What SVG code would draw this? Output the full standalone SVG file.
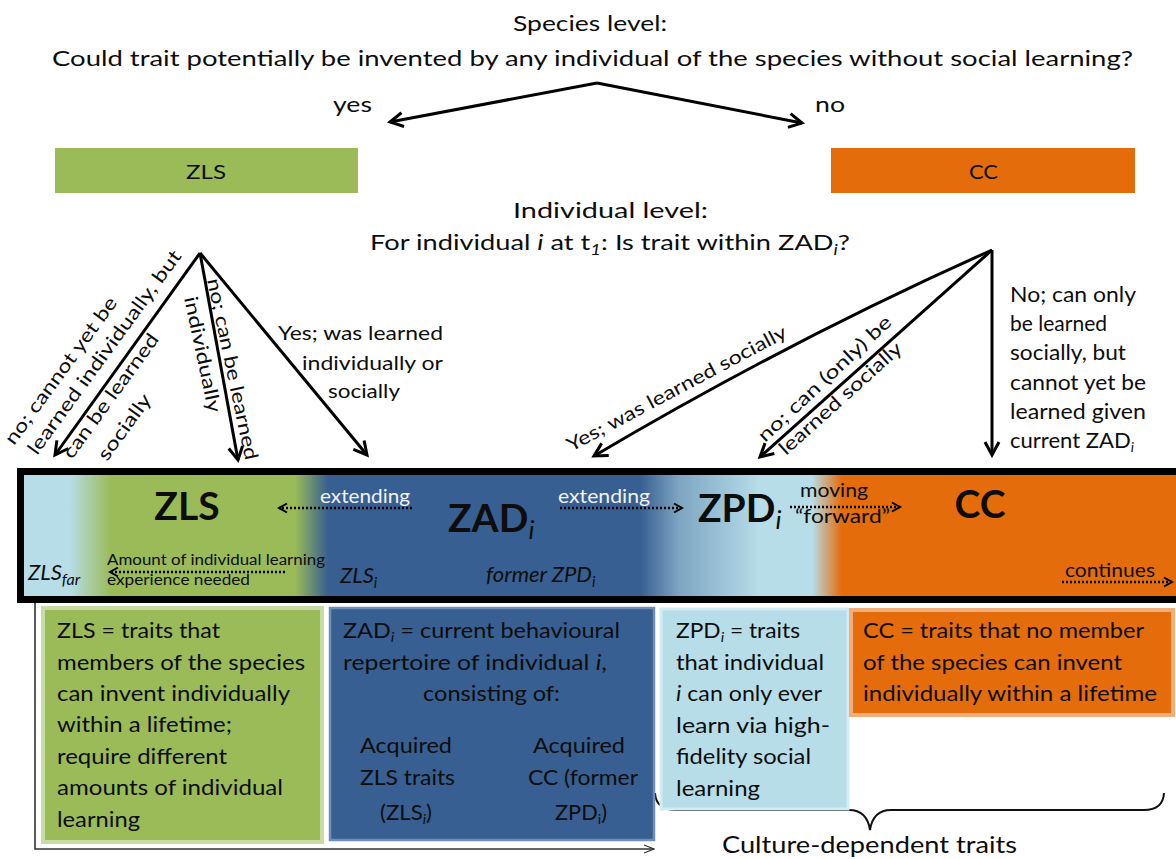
<svg xmlns="http://www.w3.org/2000/svg" width="1176" height="859" viewBox="0 0 1176 859">
<style>
text{font-family:Lato,"Liberation Sans",sans-serif;fill:#0d0d0d}
.t22{font-size:22px}
.t20{font-size:20px}
.t19{font-size:19px}
.t21{font-size:20.5px}
.bx{font-size:21px}
.big{font-size:39px;font-weight:bold}
.it{font-style:italic}
.ext{font-size:19px;fill:#f2f2f2}
.sm{font-size:14.5px}
.arrow{fill:none;stroke:#000;stroke-width:3;marker-end:url(#ah)}
.dot{fill:none;stroke:#000;stroke-width:2.5;stroke-dasharray:2 2;marker-end:url(#ahs)}
</style>
<defs>
<marker id="ah" markerUnits="userSpaceOnUse" markerWidth="18" markerHeight="18" viewBox="0 0 18 18" refX="15" refY="9" orient="auto">
<path d="M2,2 L15,9 L2,16" fill="none" stroke="#000" stroke-width="3"/>
</marker>
<marker id="ahs" markerUnits="userSpaceOnUse" markerWidth="12" markerHeight="12" viewBox="0 0 12 12" refX="10" refY="6" orient="auto">
<path d="M2,1.5 L10,6 L2,10.5" fill="none" stroke="#000" stroke-width="2"/>
</marker>
<marker id="aht" markerUnits="userSpaceOnUse" markerWidth="12" markerHeight="12" viewBox="0 0 12 12" refX="11" refY="6" orient="auto">
<path d="M1,2 L11,6 L1,10" fill="none" stroke="#333" stroke-width="1.3"/>
</marker>
<linearGradient id="band" gradientUnits="userSpaceOnUse" x1="24" y1="0" x2="1176" y2="0">
<stop offset="0" stop-color="#B7DDE8"/>
<stop offset="0.040" stop-color="#B7DDE8"/>
<stop offset="0.075" stop-color="#9BBB59"/>
<stop offset="0.235" stop-color="#9BBB59"/>
<stop offset="0.264" stop-color="#375F91"/>
<stop offset="0.535" stop-color="#375F91"/>
<stop offset="0.569" stop-color="#7FA6C2"/>
<stop offset="0.622" stop-color="#A9CFE0"/>
<stop offset="0.639" stop-color="#B7DDE8"/>
<stop offset="0.684" stop-color="#B7DDE8"/>
<stop offset="0.710" stop-color="#E46C0A"/>
<stop offset="1" stop-color="#E46C0A"/>
</linearGradient>
</defs>

<g id="title">
<text class="t22" x="513" y="31" textLength="154" lengthAdjust="spacingAndGlyphs">Species level:</text>
<text class="t22" x="52" y="66" textLength="1081" lengthAdjust="spacingAndGlyphs">Could trait potentially be invented by any individual of the species without social learning?</text>
<text class="t22" x="333" y="112" textLength="39" lengthAdjust="spacingAndGlyphs">yes</text>
<text class="t22" x="815" y="112" textLength="30" lengthAdjust="spacingAndGlyphs">no</text>
</g>

<g id="zls-top">
<rect x="55" y="148" width="303" height="45" fill="#9BBB59"/>
<text class="t20" x="186" y="179" textLength="40" lengthAdjust="spacingAndGlyphs">ZLS</text>
</g>
<g id="cc-top">
<rect x="831" y="148" width="304" height="45" fill="#E46C0A"/>
<text class="t20" x="969" y="179" textLength="29" lengthAdjust="spacingAndGlyphs">CC</text>
</g>

<g id="individual-question">
<text class="t22" x="513" y="218" textLength="195" lengthAdjust="spacingAndGlyphs">Individual level:</text>
<text class="t22" x="370" y="250" textLength="480" lengthAdjust="spacingAndGlyphs">For individual <tspan class="it">i</tspan> at t<tspan class="it" font-size="15" dy="5">1</tspan><tspan dy="-5">:  Is trait within ZAD</tspan><tspan class="it" font-size="15" dy="5">i</tspan><tspan dy="-5">?</tspan></text>
</g>

<g id="connectors">
<path class="arrow" d="M597,83 L390,122"/>
<path class="arrow" d="M597,83 L802,123"/>
<path class="arrow" d="M200,253 L55,455"/>
<path class="arrow" d="M200,253 L238,460"/>
<path class="arrow" d="M200,253 L367,455"/>
<path class="arrow" d="M992,250 Q790,340 594,456"/>
<path class="arrow" d="M992,250 L760,457"/>
<path class="arrow" d="M992,250 L992,455"/>
<path d="M35,582 L35,849 L654,849" fill="none" stroke="#333" stroke-width="1.6" marker-end="url(#aht)"/>
<path d="M655,793 Q656,810 676,810 L849,810 Q867,810 870,830 Q873,810 891,810 L1144,810 Q1163,810 1164,793" fill="none" stroke="#111" stroke-width="2"/>
</g>

<g id="labels-left">
<text class="t19" transform="translate(14,446) rotate(-54)" textLength="177" lengthAdjust="spacingAndGlyphs">no; cannot yet be</text>
<text class="t19" transform="translate(37,456) rotate(-54)" textLength="247" lengthAdjust="spacingAndGlyphs">learned individually, but</text>
<text class="t19" transform="translate(72,460) rotate(-54)" textLength="149" lengthAdjust="spacingAndGlyphs">can be learned</text>
<text class="t19" transform="translate(107,462) rotate(-54)" textLength="77" lengthAdjust="spacingAndGlyphs">socially</text>
<text class="t19" transform="translate(207,280) rotate(78)" textLength="185" lengthAdjust="spacingAndGlyphs">no; can be learned</text>
<text class="t19" transform="translate(184,298) rotate(78)" textLength="118" lengthAdjust="spacingAndGlyphs">individually</text>
<text class="t19" x="278" y="340" textLength="165" lengthAdjust="spacingAndGlyphs">Yes; was learned</text>
<text class="t19" x="302" y="370" textLength="141" lengthAdjust="spacingAndGlyphs">individually or</text>
<text class="t19" x="328" y="398" textLength="72" lengthAdjust="spacingAndGlyphs">socially</text>
</g>

<g id="labels-right">
<text class="t19" transform="translate(571,452) rotate(-28)" textLength="246" lengthAdjust="spacingAndGlyphs">Yes; was learned socially</text>
<text class="t19" transform="translate(765,443) rotate(-43)" textLength="175" lengthAdjust="spacingAndGlyphs">no; can (only) be</text>
<text class="t19" transform="translate(786,456) rotate(-42)" textLength="158" lengthAdjust="spacingAndGlyphs">learned socially</text>
<text class="t21" x="1010" y="302" textLength="126" lengthAdjust="spacingAndGlyphs">No; can only</text>
<text class="t21" x="1010" y="331" textLength="97" lengthAdjust="spacingAndGlyphs">be learned</text>
<text class="t21" x="1010" y="360" textLength="116" lengthAdjust="spacingAndGlyphs">socially, but</text>
<text class="t21" x="1010" y="390" textLength="136" lengthAdjust="spacingAndGlyphs">cannot yet be</text>
<text class="t21" x="1010" y="419" textLength="136" lengthAdjust="spacingAndGlyphs">learned given</text>
<text class="t21" x="1010" y="448" textLength="124" lengthAdjust="spacingAndGlyphs">current ZAD<tspan class="it" font-size="13" dy="4">i</tspan></text>
</g>

<g id="band">
<rect x="24" y="475" width="1160" height="121" fill="url(#band)"/>
<rect x="20.5" y="471.5" width="1170" height="128" fill="none" stroke="#000" stroke-width="7"/>
<path class="dot" d="M412,508 L279,508"/>
<text class="ext" x="320" y="503" textLength="90" lengthAdjust="spacingAndGlyphs">extending</text>
<path class="dot" d="M560,508 L682,508"/>
<text class="ext" x="558" y="503" textLength="92" lengthAdjust="spacingAndGlyphs">extending</text>
<path class="dot" d="M790,507 L900,507"/>
<text class="t19" x="800" y="497" font-size="18" textLength="68" lengthAdjust="spacingAndGlyphs">moving</text>
<text class="t19" x="795" y="523" font-size="18" textLength="95" lengthAdjust="spacingAndGlyphs">“forward”</text>
<path class="dot" d="M1062,582 L1172,582"/>
<text class="t19" x="1065" y="577" font-size="18" textLength="90" lengthAdjust="spacingAndGlyphs">continues</text>
<path class="dot" d="M285,572 L110,572"/>
<text class="sm" x="107" y="565" textLength="218" lengthAdjust="spacingAndGlyphs">Amount of individual learning</text>
<text class="sm" x="107" y="585" textLength="143" lengthAdjust="spacingAndGlyphs">experience needed</text>
</g>

<g id="band-zls">
<text class="big" x="187" y="520" text-anchor="middle">ZLS</text>
<text class="it" x="28" y="580" font-size="22">ZLS<tspan font-size="16" dy="5">far</tspan></text>
</g>
<g id="band-zad">
<text class="big" x="448" y="532">ZAD<tspan class="it" font-weight="normal" font-size="26" dy="7">i</tspan></text>
<text class="it" x="340" y="583" font-size="22">ZLS<tspan font-size="15" dy="5">i</tspan></text>
<text class="it" x="486" y="582" font-size="22">former ZPD<tspan font-size="15" dy="5">i</tspan></text>
</g>
<g id="band-zpd">
<text class="big" x="698" y="522">ZPD<tspan class="it" font-weight="normal" font-size="26" dy="7">i</tspan></text>
</g>
<g id="band-cc">
<text class="big" x="980" y="518" text-anchor="middle">CC</text>
</g>

<g id="box-zls">
<rect x="43" y="608" width="279" height="234" fill="#9BBB59" stroke="#C9DBA5" stroke-width="4"/>
<text class="bx" x="57" y="638" textLength="163" lengthAdjust="spacingAndGlyphs">ZLS = traits that</text>
<text class="bx" x="57" y="670" textLength="248" lengthAdjust="spacingAndGlyphs">members of the species</text>
<text class="bx" x="57" y="701" textLength="233" lengthAdjust="spacingAndGlyphs">can invent individually</text>
<text class="bx" x="57" y="732" textLength="175" lengthAdjust="spacingAndGlyphs">within a lifetime;</text>
<text class="bx" x="57" y="764" textLength="170" lengthAdjust="spacingAndGlyphs">require different</text>
<text class="bx" x="57" y="795" textLength="226" lengthAdjust="spacingAndGlyphs">amounts of individual</text>
<text class="bx" x="57" y="827" textLength="83" lengthAdjust="spacingAndGlyphs">learning</text>
</g>

<g id="box-zad">
<rect x="330" y="608" width="324" height="232" fill="#375F91" stroke="#6F8FB8" stroke-width="2.5"/>
<text class="bx" x="343" y="638" textLength="277" lengthAdjust="spacingAndGlyphs">ZAD<tspan class="it" font-size="14" dy="4">i</tspan><tspan dy="-4"> = current  behavioural</tspan></text>
<text class="bx" x="343" y="670" textLength="264" lengthAdjust="spacingAndGlyphs">repertoire  of individual <tspan class="it">i</tspan>,</text>
<text class="bx" x="423" y="701" textLength="137" lengthAdjust="spacingAndGlyphs">consisting of:</text>
<text class="bx" x="360" y="753" textLength="92" lengthAdjust="spacingAndGlyphs">Acquired</text>
<text class="bx" x="360" y="785" textLength="95" lengthAdjust="spacingAndGlyphs">ZLS traits</text>
<text class="bx" x="380" y="820" textLength="52" lengthAdjust="spacingAndGlyphs">(ZLS<tspan class="it" font-size="14" dy="4">i</tspan><tspan dy="-4">)</tspan></text>
<text class="bx" x="533" y="753" textLength="92" lengthAdjust="spacingAndGlyphs">Acquired</text>
<text class="bx" x="528" y="785" textLength="110" lengthAdjust="spacingAndGlyphs">CC (former</text>
<text class="bx" x="555" y="820" textLength="52" lengthAdjust="spacingAndGlyphs">ZPD<tspan font-size="14" dy="4">i</tspan><tspan dy="-4">)</tspan></text>
</g>

<g id="box-zpd">
<rect x="661" y="609" width="187" height="200" fill="#B7DDE8" stroke="#D3EBF2" stroke-width="3"/>
<text class="bx" x="676" y="638" textLength="124" lengthAdjust="spacingAndGlyphs">ZPD<tspan class="it" font-size="14" dy="4">i</tspan><tspan dy="-4"> = traits</tspan></text>
<text class="bx" x="676" y="670" textLength="148" lengthAdjust="spacingAndGlyphs">that individual</text>
<text class="bx" x="676" y="701" textLength="146" lengthAdjust="spacingAndGlyphs"><tspan class="it">i</tspan> can only ever</text>
<text class="bx" x="676" y="733" textLength="154" lengthAdjust="spacingAndGlyphs">learn via high-</text>
<text class="bx" x="676" y="764" textLength="135" lengthAdjust="spacingAndGlyphs">fidelity social</text>
<text class="bx" x="676" y="796" textLength="84" lengthAdjust="spacingAndGlyphs">learning</text>
</g>

<g id="box-cc">
<rect x="851" y="610" width="322" height="105" fill="#E46C0A" stroke="#F2AE7A" stroke-width="4"/>
<text class="bx" x="863" y="638" textLength="281" lengthAdjust="spacingAndGlyphs">CC = traits that no member</text>
<text class="bx" x="863" y="670" textLength="259" lengthAdjust="spacingAndGlyphs">of the species  can invent</text>
<text class="bx" x="863" y="701" textLength="294" lengthAdjust="spacingAndGlyphs">individually within a lifetime</text>
</g>

<g id="culture-label">
<text x="722" y="853" font-size="23" textLength="295" lengthAdjust="spacingAndGlyphs">Culture-dependent traits</text>
</g>
</svg>
